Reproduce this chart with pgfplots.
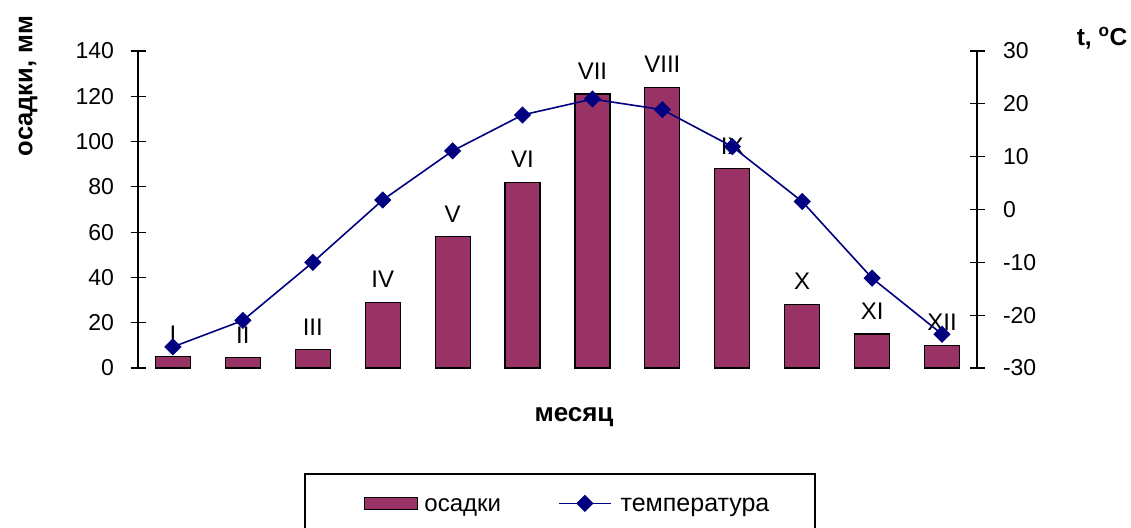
\documentclass[border=0pt]{standalone}
\usepackage{fontspec}
\setmainfont{Liberation Sans}
\usepackage{pgfplots}
\pgfplotsset{compat=1.18}
\definecolor{plum}{HTML}{993366}
\definecolor{navyc}{HTML}{000080}

\begin{document}
\begin{tikzpicture}
\useasboundingbox (0pt,0pt) rectangle (1131pt,527pt);
\pgfplotsset{base/.style={scale only axis, width=839pt, height=317pt,
  at={(138pt,159pt)}, anchor=south west, xmin=0.5, xmax=12.5,
  axis x line=none, tick align=center, major tick length=15pt,
  every tick label/.append style={font=\fontsize{23}{27}\selectfont},
  /pgf/number format/assume math mode=true,
  axis line style={line width=1.2pt, -},
  every tick/.append style={line width=1.2pt, black}, clip=false}}

\begin{axis}[base, ymin=0, ymax=140, ytick={0,20,...,140}, axis y line*=left,
  yticklabel style={xshift=-13pt},
  ybar, bar width=35pt, nodes near coords, point meta=explicit symbolic,
  every node near coord/.append style={font=\fontsize{24}{28}\selectfont, anchor=south, yshift=14pt, inner sep=0pt, text=black}]
\addplot[fill=plum, draw=black, line width=1.2pt] table[meta=lab] {
x y lab
1 5 I
2 4.5 II
3 8 III
4 29 IV
5 58 V
6 82 VI
7 121 VII
8 124 VIII
9 88 IX
10 28 X
11 15 XI
12 10 XII
};
\end{axis}

\begin{axis}[base, ymin=-30, ymax=30, ytick={-30,-20,...,30}, axis y line*=right,
  yticklabel style={xshift=15pt},
  legend columns=2,
  legend style={at={(0.2694,-0.432)}, anchor=west, draw=none, fill=none, inner sep=0pt,
    font=\fontsize{24}{28}\selectfont,
    /tikz/every even column/.append style={column sep=55pt}}]
\addlegendimage{legend image code/.code={\draw[fill=plum, draw=black, line width=1.2pt] (0pt,-4pt) rectangle (53pt,8pt);}}
\addlegendentry{\hspace{4pt}осадки}
\addplot[navyc, line width=1.6pt, mark=square*, mark size=5.3pt, mark options={rotate=45, fill=navyc, solid},
  legend image code/.code={\draw[navyc, line width=1.6pt] (0pt,2pt) -- (52pt,2pt); \fill[navyc] (26pt,9.5pt) -- (33.5pt,2pt) -- (26pt,-5.5pt) -- (18.5pt,2pt) -- cycle;}]
 coordinates {(1,-26) (2,-21) (3,-10) (4,1.8) (5,11.1) (6,17.9) (7,20.9) (8,18.9) (9,11.9) (10,1.5) (11,-13) (12,-23.6)};
\addlegendentry{\hspace{7pt}\fontsize{25}{29}\selectfont температура}
\end{axis}

\node[rotate=90, font=\bfseries\fontsize{25.5}{30}\selectfont] at (28pt,441pt) {осадки, мм};
\node[font=\bfseries\fontsize{24.5}{29}\selectfont] at (1102pt,489pt) {t, \textsuperscript{o}C};
\node[font=\bfseries\fontsize{26}{30}\selectfont, anchor=base] at (574pt,105pt) {месяц};
\draw[line width=1.2pt] (305pt,53pt) rectangle (815pt,-20pt);
\end{tikzpicture}
\end{document}
